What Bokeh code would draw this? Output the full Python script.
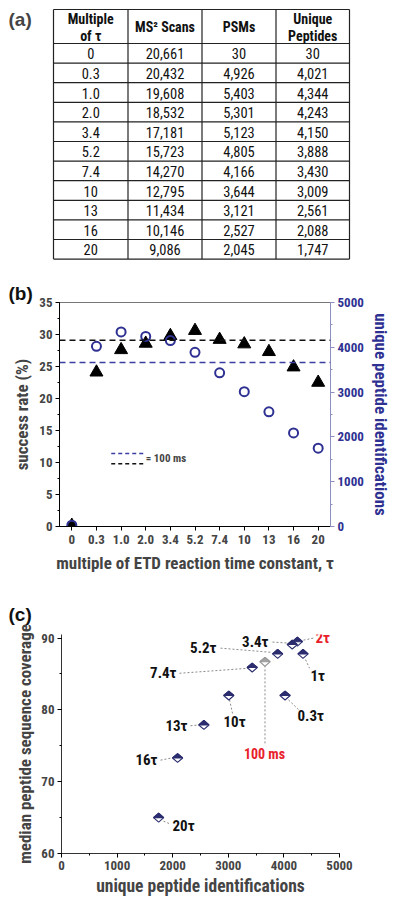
from bokeh.plotting import figure
from bokeh.models import (Range1d, FactorRange, LinearAxis, Label, Span, Title,
                          SingleIntervalTicker)
from bokeh.core.properties import value
from bokeh.embed import file_html
from bokeh.resources import INLINE

FONT = "'Roboto Condensed', 'DejaVu Sans Condensed', Roboto, sans-serif"
FONT_P = "Liberation Sans"
NAVY = "#2e3192"
DNAVY = "#2b2d6e"
RED = "#e8202a"

# ---------------- data ----------------
tau_labels = ["0", "0.3", "1.0", "2.0", "3.4", "5.2", "7.4", "10", "13", "16", "20"]
ms2_scans = [20661, 20432, 19608, 18532, 17181, 15723, 14270, 12795, 11434, 10146, 9086]
psms = [30, 4926, 5403, 5301, 5123, 4805, 4166, 3644, 3121, 2527, 2045]
unique_peptides = [30, 4021, 4344, 4243, 4150, 3888, 3430, 3009, 2561, 2088, 1747]
success_rate = [0.15, 24.1, 27.6, 28.6, 29.8, 30.6, 29.2, 28.5, 27.3, 24.9, 22.5]
ref_100ms_success = 29.1
ref_100ms_unique = 3660

cov_labels = ["0.3τ", "1τ", "2τ", "3.4τ", "5.2τ", "7.4τ", "10τ", "13τ", "16τ", "20τ", "100 ms"]
cov_unique = [4021, 4344, 4243, 4150, 3888, 3430, 3009, 2561, 2088, 1747, 3660]
cov_median = [82.0, 87.8, 89.5, 89.1, 87.8, 85.9, 82.0, 77.9, 73.3, 65.0, 86.7]

header_lines = [["Multiple", "of τ"], ["MS² Scans"], ["PSMs"], ["Unique", "Peptides"]]

W = 393   # 8px page margin included on the left
M = 8

# ---------------- panel (a): table ----------------
pa = figure(width=W, height=270 + M, x_range=Range1d(-M, W - M), y_range=Range1d(270, -M),
            x_axis_type=None, y_axis_type=None, toolbar_location=None,
            output_backend="svg", min_border=0)
pa.grid.visible = False
pa.outline_line_color = None

col_edges = [45, 119.5, 193.5, 267.5, 341]
top, head_bot, row_h = 1, 35, 19.6
nrows = len(tau_labels)
bottom = head_bot + row_h * nrows

hy = [top, head_bot] + [head_bot + row_h * (i + 1) for i in range(nrows)]
pa.segment(x0=[col_edges[0]] * len(hy), x1=[col_edges[-1]] * len(hy), y0=hy, y1=hy,
           line_color="#222222", line_width=1.2)
pa.segment(x0=col_edges, x1=col_edges, y0=[top] * 5, y1=[bottom] * 5,
           line_color="#222222", line_width=1.2)

centers = [(col_edges[i] + col_edges[i + 1]) / 2 for i in range(4)]
hx, hyy, ht = [], [], []
for i, lines in enumerate(header_lines):
    if len(lines) == 2:
        for j, t in enumerate(lines):
            hx.append(centers[i]); hyy.append(10.5 + 16.5 * j); ht.append(t)
    else:
        hx.append(centers[i]); hyy.append(18.5); ht.append(lines[0])
pa.text(x=hx, y=hyy, text=ht, text_font=value(FONT), text_font_style="bold",
        text_font_size="14px", text_align="center", text_baseline="middle", text_color="#111111")

cols = [tau_labels, [f"{v:,}" for v in ms2_scans], [f"{v:,}" for v in psms],
        [f"{v:,}" for v in unique_peptides]]
bx, by, bt = [], [], []
for i, c in enumerate(cols):
    for r, t in enumerate(c):
        bx.append(centers[i]); by.append(head_bot + row_h * (r + 0.5) + 0.5); bt.append(t)
pa.text(x=bx, y=by, text=bt, text_font=value(FONT), text_font_size="14.5px",
        text_align="center", text_baseline="middle", text_color="#111111")
pa.add_layout(Label(x=0, y=11, text="(a)", text_font=FONT_P,
                    text_font_style="bold", text_font_size="19px", text_baseline="middle"))

# ---------------- panel (b) ----------------
pb = figure(width=W, height=307, x_range=FactorRange(*tau_labels), y_range=Range1d(0, 35),
            toolbar_location=None, output_backend="svg",
            min_border_left=51 + M, min_border_right=56, min_border_top=24, min_border_bottom=59)
pb.title = Title(text="(b)", align="left", offset=-51, standoff=-3, text_font=FONT_P,
                 text_font_style="bold", text_font_size="19px", text_color="#111111")
pb.grid.visible = False
pb.outline_line_color = "#777777"
pb.extra_y_ranges = {"right": Range1d(0, 5000)}

pb.yaxis.ticker = SingleIntervalTicker(interval=5, num_minor_ticks=2)
ax_r = LinearAxis(y_range_name="right", ticker=SingleIntervalTicker(interval=1000, num_minor_ticks=2),
                  axis_label="unique peptide identifications")
pb.add_layout(ax_r, "right")
pb.yaxis[0].axis_label = "success rate (%)"
pb.xaxis.axis_label = "multiple of ETD reaction time constant, τ"

for ax in [pb.xaxis[0], pb.yaxis[0], ax_r]:
    ax.major_label_text_font = FONT
    ax.major_label_text_font_style = "bold"
    ax.major_label_text_font_size = "13px"
    ax.axis_label_text_font = FONT
    ax.axis_label_text_font_style = "bold"
    ax.axis_label_text_font_size = "17px"
    ax.major_tick_out = 4
    ax.major_tick_in = 0
    ax.minor_tick_out = 2
    ax.minor_tick_in = 0
    ax.major_label_standoff = 3
    ax.axis_label_standoff = 4
ax_r.axis_line_color = "#8c8fc0"
ax_r.major_tick_line_color = "#8c8fc0"
ax_r.minor_tick_line_color = "#8c8fc0"
ax_r.major_label_text_color = NAVY
ax_r.axis_label_text_color = NAVY
pb.xaxis.major_label_standoff = 4
pb.xaxis.axis_label_standoff = 6

pb.add_layout(Span(location=ref_100ms_success, dimension="width", line_color="#111111",
                   line_dash="6 4", line_width=1.6))
pb.add_layout(Span(location=ref_100ms_unique, dimension="width", y_range_name="right",
                   line_color="#3b3fa0", line_dash="6 4", line_width=1.6))

pb.scatter(x=tau_labels, y=success_rate, marker="triangle", size=13, color="black")
pb.scatter(x=tau_labels, y=unique_peptides, y_range_name="right", marker="circle", size=9,
           fill_color=None, line_color=NAVY, line_width=2)

pb.segment(x0=[2.1, 2.1], x1=[3.4, 3.4], y0=[11.4, 9.8], y1=[11.4, 9.8],
           line_color=["#3b3fa0", "#111111"], line_dash="4 3", line_width=1.5)
pb.add_layout(Label(x=3.5, y=10.6, text="= 100 ms", text_font=FONT, text_font_style="bold",
                    text_font_size="11px", text_baseline="middle"))

# ---------------- panel (c) ----------------
pc = figure(width=W, height=313, x_range=Range1d(0, 5000), y_range=Range1d(60, 90.5),
            toolbar_location=None, output_backend="svg",
            min_border_left=53 + M, min_border_right=54, min_border_top=49, min_border_bottom=41)
pc.title = Title(text="(c)", align="left", offset=-53, standoff=19, text_font=FONT_P,
                 text_font_style="bold", text_font_size="19px", text_color="#111111")
pc.grid.visible = False
pc.outline_line_color = None
pc.xaxis.ticker = SingleIntervalTicker(interval=1000, num_minor_ticks=2)
pc.yaxis.ticker = SingleIntervalTicker(interval=10, num_minor_ticks=2)
pc.xaxis.axis_label = "unique peptide identifications"
pc.yaxis.axis_label = "median peptide sequence coverage"
for ax in [pc.xaxis[0], pc.yaxis[0]]:
    ax.major_label_text_font = FONT
    ax.major_label_text_font_style = "bold"
    ax.major_label_text_font_size = "13px"
    ax.axis_label_text_font = FONT
    ax.axis_label_text_font_style = "bold"
    ax.axis_label_text_font_size = "17.5px"
    ax.major_tick_out = 4
    ax.major_tick_in = 0
    ax.minor_tick_out = 2
    ax.minor_tick_in = 0
    ax.major_label_standoff = 3
    ax.axis_label_standoff = 3
    ax.axis_line_color = "#333333"
pc.yaxis.axis_label_text_font_size = "17px"

lab_pos = {
    "0.3τ": (4245, 79.1, "left"), "1τ": (4478, 84.7, "left"), "2τ": (4568, 90.0, "left"),
    "3.4τ": (3723, 89.5, "right"), "5.2τ": (2788, 88.6, "right"), "7.4τ": (2068, 85.1, "right"),
    "10τ": (2914, 78.3, "left"), "13τ": (2266, 77.7, "right"), "16τ": (1727, 73.0, "right"),
    "20τ": (1996, 63.8, "left"), "100 ms": (3651, 73.9, "center"),
}
lead = {
    "0.3τ": (4083, 81.4, 4281, 79.9), "1τ": (4389, 87.0, 4461, 85.8),
    "2τ": (4281, 89.6, 4532, 90.0), "3.4τ": (3795, 89.45, 4083, 89.3),
    "5.2τ": (2860, 88.6, 3795, 88.0), "7.4τ": (2122, 85.1, 3363, 85.8),
    "10τ": (3022, 81.4, 3076, 79.5), "13τ": (2320, 77.8, 2482, 77.9),
    "16τ": (1781, 73.0, 1978, 73.3), "20τ": (1835, 64.5, 1960, 64.1),
    "100 ms": (3660, 86.2, 3660, 75.3),
}
pc.segment(x0=[lead[k][0] for k in cov_labels], y0=[lead[k][1] for k in cov_labels],
           x1=[lead[k][2] for k in cov_labels], y1=[lead[k][3] for k in cov_labels],
           line_color="#8a8a8a", line_dash="2 2", line_width=1)

DX, DY = 92, 0.62
top_xs, top_ys, full_xs, full_ys, tops_c, line_c = [], [], [], [], [], []
for xv, yv, lab in zip(cov_unique, cov_median, cov_labels):
    full_xs.append([xv - DX, xv, xv + DX, xv]); full_ys.append([yv, yv + DY, yv, yv - DY])
    top_xs.append([xv - DX, xv, xv + DX]); top_ys.append([yv, yv + DY, yv])
    gray = lab == "100 ms"
    tops_c.append("#a3a3a3" if gray else DNAVY)
    line_c.append("#9a9a9a" if gray else DNAVY)
pc.patches(xs=full_xs, ys=full_ys, fill_color="white", line_color=line_c, line_width=1.1)
pc.patches(xs=top_xs, ys=top_ys, fill_color=tops_c, line_color=line_c, line_width=1.1)

for lab in cov_labels:
    xv, yv, al = lab_pos[lab]
    red = lab in ("2τ", "100 ms")
    pc.add_layout(Label(x=xv, y=yv, text=lab, text_font=FONT, text_font_style="bold",
                        text_font_size="15px" if lab != "100 ms" else "14px",
                        text_align=al, text_baseline="middle",
                        text_color=RED if red else "#111111"))

open("out.html", "w").write(file_html([pa, pb, pc], INLINE))
